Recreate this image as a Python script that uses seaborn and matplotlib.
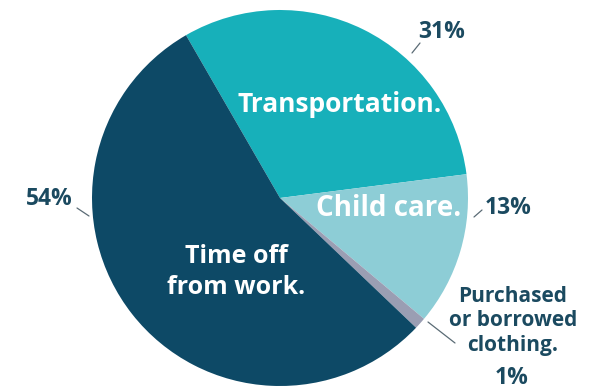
import matplotlib
matplotlib.use("Agg")
import matplotlib.pyplot as plt
import seaborn as sns

# Shares of reported costs
categories = ["Transportation.", "Child care.", "Purchased\nor borrowed\nclothing.", "Time off\nfrom work."]
shares = [31, 13, 1, 54]
pct_labels = ["31%", "13%", "1%", "54%"]
colors = ["#17b0ba", "#8dcdd6", "#9a9eb3", "#0d4966"]

sns.set_theme(style="white")
plt.rcParams["font.family"] = ["Open Sans", "DejaVu Sans"]

W, H = 598, 389
fig = plt.figure(figsize=(W / 100, H / 100), dpi=100)
ax = fig.add_axes([0, 0, 1, 1])

cx, cy, r = 280, H - 198, 188
ax.pie(shares, colors=colors, startangle=120, counterclock=False,
       center=(cx, cy), radius=r, frame=True,
       wedgeprops=dict(linewidth=0))
ax.set_xlim(0, W)
ax.set_ylim(0, H)
ax.set_aspect("equal")
ax.axis("off")

navy = "#1b4a60"
lead = "#5a6b75"

def px(x, y):
    return x, H - y

# In-slice category labels
ax.text(*px(340, 104), categories[0], color="white", fontsize=19,
        fontweight="bold", ha="center", va="center")
ax.text(*px(389, 208), categories[1], color="white", fontsize=20,
        fontweight="bold", ha="center", va="center")
ax.text(*px(236, 272), categories[3], color="white", fontsize=18,
        fontweight="bold", ha="center", va="center", linespacing=1.3)
ax.text(*px(513, 321), categories[2], color=navy, fontsize=15,
        fontweight="bold", ha="center", va="center", linespacing=1.2)

# Percentage labels with leader lines
ax.text(*px(442, 32), pct_labels[0], color=navy, fontsize=16.5,
        fontweight="bold", ha="center", va="center")
ax.plot(*zip(px(412, 53), px(420, 43)), color=lead, lw=0.9)

ax.text(*px(508, 208), pct_labels[1], color=navy, fontsize=16.5,
        fontweight="bold", ha="center", va="center")
ax.plot(*zip(px(474, 217), px(482, 210)), color=lead, lw=0.9)

ax.text(*px(512, 378), pct_labels[2], color=navy, fontsize=16.5,
        fontweight="bold", ha="center", va="center")
ax.plot(*zip(px(428, 322), px(455, 343)), color=lead, lw=0.9)

ax.text(*px(49, 199), pct_labels[3], color=navy, fontsize=16.5,
        fontweight="bold", ha="center", va="center")
ax.plot(*zip(px(77, 208), px(89, 216)), color=lead, lw=0.9)

fig.savefig("out.png", dpi=100, facecolor="white")
